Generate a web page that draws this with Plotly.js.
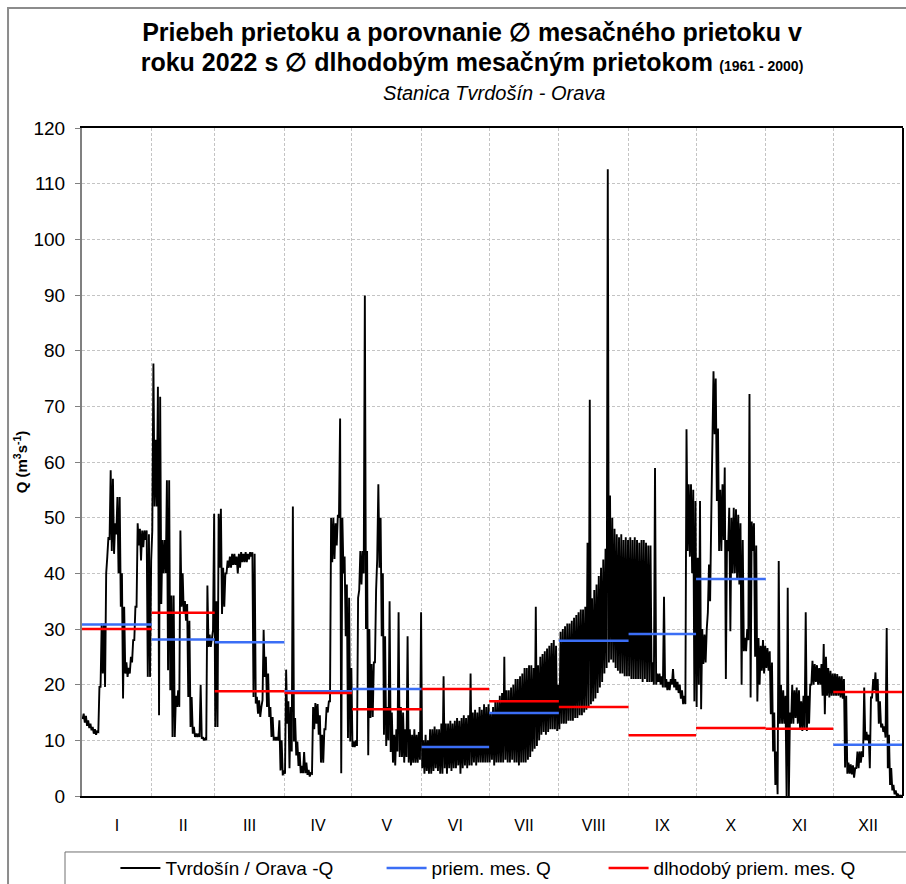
<!DOCTYPE html>
<html>
<head>
<meta charset="utf-8">
<script src="https://cdn.plot.ly/plotly-3.0.1.min.js"></script>
<style>html,body{margin:0;padding:0;background:#fff;}#chart{width:906px;height:884px;}</style>
</head>
<body>
<div id="chart"></div>
<script>
// Month labels and lengths (2022)
const months = ['I','II','III','IV','V','VI','VII','VIII','IX','X','XI','XII'];
const monthDays = [31,28,31,30,31,30,31,31,30,31,30,31];

// Daily minimum / maximum discharge Q (m3/s), Tvrdošín - Orava, 2022
const janLo = [13.8,13.2,12.6,12.2,11.8,11.2,11.0,11.5,19.6,22.0,19.6,43.0,46.0,44.0,43.5,47.0,40.0,34.0,17.5,22.0,21.4,22.0,24.0,28.0,34.0,45.0,42.3,44.7,46.0,21.4,21.4];
const janHi = [14.8,14.4,13.6,13.0,12.4,12.0,11.6,19.6,31.0,31.0,40.0,46.5,58.5,57.0,49.0,53.7,53.7,40.0,34.0,24.0,23.0,25.0,28.0,34.0,49.0,48.0,47.7,47.7,47.7,47.0,42.3];
const febLo = [47.7,52.0,52.0,14.5,34.5,40.0,40.0,22.6,19.0,10.6,10.6,16.0,16.0,34.0,32.7,31.5,17.8,12.4,11.2,10.6,10.6,10.6,10.3,10.0,10.0,26.8,26.8,29.8];
const febHi = [77.7,64.0,73.5,71.7,46.0,46.0,56.7,56.7,36.0,36.0,18.0,19.0,47.7,40.0,35.0,34.5,31.5,17.8,12.4,11.2,11.2,20.0,10.6,10.3,37.8,29.0,29.0,50.7];
const marLo = [12.4,12.4,41.0,32.7,34.0,40.0,41.0,41.0,41.5,41.5,40.0,41.0,42.0,42.0,42.0,42.5,43.0,17.8,16.6,14.8,14.2,17.2,21.4,16.0,14.2,10.6,10.0,10.0,10.0,4.6,3.7];
const marHi = [35.0,50.7,51.6,41.0,40.0,42.3,43.0,43.5,43.5,43.0,43.5,43.8,43.5,43.8,43.5,43.8,43.8,43.5,17.8,17.2,16.0,29.8,25.0,22.0,16.0,14.2,10.6,10.6,13.6,10.0,4.6];
const aprLo = [4.0,13.0,5.0,8.0,9.8,7.3,5.4,4.1,4.1,4.1,3.8,3.5,4.0,12.0,13.0,11.0,6.0,6.0,12.0,15.0,17.0,42.0,42.6,45.0,50.0,4.1,40.0,28.7,10.4,9.8];
const aprHi = [22.7,17.0,16.0,52.0,14.0,9.8,7.9,5.4,7.9,6.0,4.7,4.1,16.0,16.7,16.5,14.5,11.0,12.0,16.0,17.0,50.0,50.0,49.0,50.5,67.8,50.0,43.0,38.0,35.6,23.0];
const mayLo = [8.8,8.8,9.0,37.0,38.0,40.0,30.0,7.3,14.0,14.2,24.0,42.6,41.0,28.7,11.0,9.0,10.0,7.9,6.0,5.5,8.0,7.0,7.0,6.0,7.0,6.0,5.5,6.0,6.0,6.0,6.5];
const mayHi = [9.8,10.0,35.6,44.0,44.0,89.9,44.0,30.0,23.7,24.0,37.0,56.0,50.0,40.0,28.7,16.0,35.0,15.0,11.0,12.0,33.0,16.0,15.0,12.0,28.7,12.0,11.0,12.0,11.0,11.5,33.0];
const junLo = [5.0,4.0,4.5,4.0,4.0,4.5,5.0,4.5,4.0,4.0,5.0,4.0,5.0,4.5,5.0,5.0,5.5,4.0,5.0,5.5,5.0,5.5,5.5,6.0,5.5,6.0,6.0,6.0,6.0,6.0];
const junHi = [10.0,11.0,10.0,12.0,12.0,12.5,12.0,12.0,13.0,21.5,13.0,13.0,13.5,13.0,13.5,14.0,13.5,14.0,14.5,14.0,14.5,22.0,15.0,15.5,15.0,16.0,15.5,16.5,16.0,16.5];
const julLo = [6.0,6.5,5.5,6.0,6.0,6.0,6.0,6.5,6.0,6.0,6.5,6.0,6.0,5.5,6.0,6.0,6.0,6.5,7.0,8.0,8.5,9.0,10.0,11.0,11.5,11.0,11.5,12.0,12.0,12.0,11.7];
const julHi = [15.0,16.0,17.0,17.0,18.0,18.5,25.0,19.0,19.0,19.5,20.0,21.0,21.0,21.5,22.0,23.0,23.0,23.5,23.5,23.0,34.0,23.5,25.0,25.5,26.0,26.5,27.0,27.5,28.0,27.0,20.0];
const augLo = [12.0,13.0,13.0,13.0,13.5,13.5,13.5,14.0,14.0,14.5,14.5,15.0,15.5,16.0,16.5,17.0,17.5,18.5,19.5,20.5,22.0,23.0,24.0,24.5,24.0,23.0,22.5,22.0,22.0,21.5,21.5];
const augHi = [29.5,30.0,30.5,31.0,31.0,31.5,32.0,32.5,33.0,33.5,33.5,34.0,45.5,71.2,35.5,37.0,38.0,39.5,41.0,42.5,44.4,112.6,54.0,50.0,48.0,47.0,46.5,47.0,46.0,46.5,46.0];
const sepLo = [21.5,21.0,21.0,21.0,21.0,21.0,20.5,21.0,20.5,20.5,20.5,20.0,20.0,20.5,20.0,19.5,19.5,19.0,19.0,20.0,19.5,19.0,18.5,17.5,16.5,16.5,44.0,43.0,40.0,17.0];
const sepHi = [46.5,46.0,46.5,46.0,45.5,46.0,46.0,45.5,45.0,45.0,24.0,58.9,22.0,22.0,21.5,35.8,21.0,20.5,21.0,22.8,21.0,20.5,20.0,19.0,18.0,65.9,56.0,56.0,55.0,53.0];
const octLo = [16.0,20.0,15.6,23.7,24.0,33.0,35.0,60.0,65.0,53.0,44.0,44.0,46.0,21.0,44.0,29.6,40.0,40.0,39.0,38.0,20.0,26.0,26.0,28.0,17.7,44.0,25.0,17.0,20.0,22.5,22.0];
const octHi = [42.8,53.0,30.0,29.0,30.0,41.6,50.0,76.3,75.0,66.0,55.0,56.0,59.0,46.0,51.8,50.0,51.8,51.5,50.5,49.0,46.0,28.4,30.0,72.2,49.3,49.0,45.0,28.4,27.0,28.0,27.0];
const novLo = [23.0,22.5,14.7,8.0,2.0,0.3,13.0,13.0,13.0,0.0,0.0,13.0,13.0,14.0,13.0,12.0,11.7,12.0,11.7,13.0,20.0,20.0,20.5,20.0,20.0,18.0,14.7,18.0,17.7,18.0];
const novHi = [26.6,26.0,24.0,15.0,8.0,42.2,20.0,19.0,18.0,37.4,15.0,20.0,19.0,19.5,19.0,17.0,18.0,33.0,18.0,20.0,24.3,23.7,23.5,23.0,23.7,27.3,25.0,23.0,22.5,22.0];
const decLo = [18.0,18.0,18.0,17.7,17.5,5.1,4.0,4.0,3.9,3.3,5.0,5.0,6.0,7.0,10.0,10.0,5.0,17.7,19.0,17.0,13.0,12.3,11.5,10.5,5.0,2.0,1.0,0.3,0.0,0.0,0.0];
const decHi = [22.0,21.9,21.5,21.5,21.0,18.0,6.0,5.7,5.5,5.0,8.0,8.0,8.0,19.5,11.5,11.0,17.7,21.0,22.2,21.0,17.0,13.0,12.5,30.2,11.0,5.0,2.0,1.0,0.3,0.1,0.1];

// Monthly mean 2022 (priem. mes. Q) and long-term monthly mean 1961-2000
const priemMesQ = [30.8,28.1,27.6,18.8,19.2,8.8,14.9,27.9,29.1,39.0,null,9.2];
const dlhodobyQ = [30.0,32.9,18.8,18.5,15.6,19.2,17.0,16.0,10.9,12.2,12.1,18.7];

const loAll = [janLo,febLo,marLo,aprLo,mayLo,junLo,julLo,augLo,sepLo,octLo,novLo,decLo];
const hiAll = [janHi,febHi,marHi,aprHi,mayHi,junHi,julHi,augHi,sepHi,octHi,novHi,decHi];

const monthStart = [0];
monthDays.forEach(function(n){ monthStart.push(monthStart[monthStart.length-1] + n); });

const qx = [], qy = [];
loAll.forEach(function(lo, m){
  const hi = hiAll[m];
  for (let i = 0; i < lo.length; i++) {
    const d = monthStart[m] + i;
    qx.push(d + 0.25, d + 0.75);
    qy.push(lo[i], hi[i]);
  }
});

function segments(vals){
  const sx = [], sy = [];
  vals.forEach(function(v, m){
    if (v === null) return;
    sx.push(monthStart[m], monthStart[m+1], null);
    sy.push(v, v, null);
  });
  return {x: sx, y: sy};
}
const sBlue = segments(priemMesQ);
const sRed = segments(dlhodobyQ);
const mid = months.map(function(_, m){ return (monthStart[m] + monthStart[m+1]) / 2; });

const FONT = 'Liberation Sans, Arial, sans-serif';

const traces = [
  {x: qx, y: qy, type: 'scatter', mode: 'lines', name: 'Tvrdošín / Orava -Q',
   line: {color: '#000000', width: 1.9}, legend: 'legend'},
  {x: sBlue.x, y: sBlue.y, type: 'scatter', mode: 'lines', name: 'priem. mes. Q',
   line: {color: '#3b6ef5', width: 2.5}, legend: 'legend2'},
  {x: sRed.x, y: sRed.y, type: 'scatter', mode: 'lines', name: 'dlhodobý priem. mes. Q',
   line: {color: '#ff0000', width: 2.5}, legend: 'legend3'}
];

const legBase = {orientation: 'h', yanchor: 'middle', xanchor: 'left', y: -0.108,
  bgcolor: 'rgba(0,0,0,0)', borderwidth: 0, font: {family: FONT, size: 19, color: '#000'}, itemwidth: 40};

const layout = {
  width: 906, height: 884,
  margin: {l: 82, r: 3, t: 128, b: 88, autoexpand: false},
  paper_bgcolor: '#ffffff', plot_bgcolor: '#ffffff',
  showlegend: true,
  title: {
    text: '<span style="font-size:25px"><b>Priebeh prietoku a porovnanie ∅ mesačného prietoku v</b></span><br><span style="font-size:25px"><b>roku 2022 s ∅ dlhodobým mesačným prietokom</b></span> <span style="font-size:14px"><b>(1961 - 2000)</b></span><br><i><span style="font-size:20px">&nbsp;&nbsp;&nbsp;&nbsp;&nbsp;&nbsp;&nbsp;&nbsp;Stanica Tvrdošín - Orava</span></i>',
    font: {family: FONT, size: 23, color: '#000'},
    x: 0.521, xref: 'container', xanchor: 'center',
    y: 0.954, yref: 'container', yanchor: 'top'
  },
  xaxis: {
    range: [0, 365], fixedrange: true,
    tickmode: 'array', tickvals: mid, ticktext: months,
    ticks: 'outside', ticklen: 14, tickcolor: 'rgba(0,0,0,0)',
    tickfont: {family: FONT, size: 16, color: '#000'},
    showgrid: false, zeroline: false,
    showline: true, linecolor: '#000', linewidth: 2, mirror: true,
    minor: {tickmode: 'array', tickvals: monthStart, ticks: '', showgrid: true,
            gridcolor: '#c4c4c4', griddash: '3px,2px', gridwidth: 1}
  },
  yaxis: {
    range: [0, 120], fixedrange: true,
    tickmode: 'linear', tick0: 0, dtick: 10,
    ticks: 'outside', ticklen: 5, tickcolor: '#808080', tickwidth: 1,
    ticklabelstandoff: 6,
    tickfont: {family: FONT, size: 19, color: '#000'},
    showgrid: true, gridcolor: '#c4c4c4', griddash: '3px,2px', gridwidth: 1,
    zeroline: false, showline: true, linecolor: '#808080', linewidth: 2,
    title: {text: '<b>Q (m<sup>3</sup>s<sup>-1</sup>)</b>', font: {family: FONT, size: 15, color: '#000'}, standoff: 2}
  },
  legend: Object.assign({}, legBase, {x: 0.0407}),
  legend2: Object.assign({}, legBase, {x: 0.3649}),
  legend3: Object.assign({}, legBase, {x: 0.6353}),
  shapes: [
    {type: 'rect', xref: 'paper', yref: 'paper', x0: -0.0901, x1: 1.2, y0: -0.3, y1: 1.1796,
     line: {color: '#8c8c8c', width: 2}, fillcolor: 'rgba(0,0,0,0)', layer: 'below'},
    {type: 'rect', xref: 'paper', yref: 'paper', x0: -0.0207, x1: 1.1, y0: -0.3, y1: -0.0838,
     line: {color: '#707070', width: 1}, fillcolor: 'rgba(0,0,0,0)', layer: 'below'},
    {type: 'line', xref: 'paper', yref: 'paper', x0: 1, x1: 1, y0: 0, y1: 1,
     line: {color: '#000', width: 2}, layer: 'above'}
  ]
};

Plotly.newPlot('chart', traces, layout, {displayModeBar: false, staticPlot: true});
</script>
</body>
</html>
